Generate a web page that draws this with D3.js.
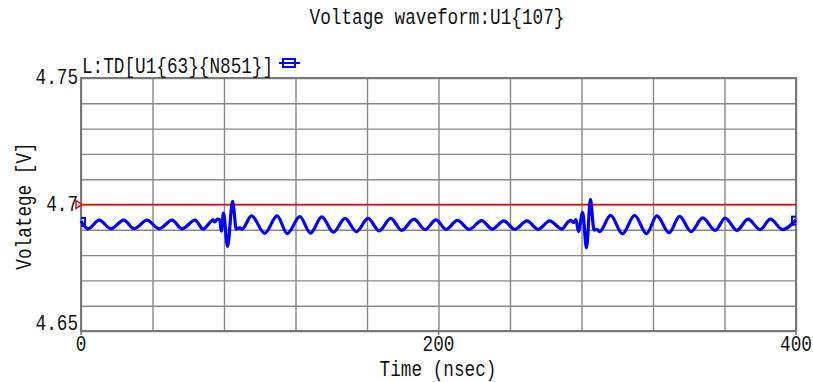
<!DOCTYPE html>
<html>
<head>
<meta charset="utf-8">
<script src="https://cdn.jsdelivr.net/npm/d3@7"></script>
<style>
  html, body { margin: 0; padding: 0; background: #fff; }
  svg text { font-family: "Liberation Mono", "DejaVu Sans Mono", monospace; font-size: 17.7px; fill: #111; }
</style>
</head>
<body>
<svg id="chart" width="813" height="382"></svg>
<script>
// waveform.js — voltage waveform U1{107}, net N851

const title = 'Voltage waveform:U1{107}';
const seriesName = 'L:TD[U1{63}{N851}]';
const xTitle = 'Time (nsec)';
const yTitle = 'Volatege [V]';

const xTicks = [0, 200, 400];
const yTicks = [4.65, 4.7, 4.75];
const refLevel = 4.7;

// time (ns) / voltage (V)
const timeNs = [
  0, 3.9, 10.2, 16.8, 23.9, 29.8, 36.9, 43.8, 50.9, 56.5, 63.8, 68.3,
  72.0, 73.9, 74.8, 76.3, 77.6, 78.5, 79.7, 82.0, 84.8, 86.9, 88.8, 90.1,
  95.4, 102.8, 109.7, 115.4, 122.4, 128.4, 134.7, 141.2, 147.7, 154.1, 160.6, 166.8,
  173.3, 179.4, 186.3, 192.5, 198.6, 204.2, 210.6, 217.2, 224.1, 230.1, 236.5, 242.7,
  249.5, 255.8, 262.2, 269.0, 272.6, 274.1, 275.5, 276.9, 278.3, 280.6, 282.8, 285.0,
  287.0, 288.7, 290.1, 296.3, 302.9, 309.7, 316.4, 322.2, 329.0, 334.9, 341.3, 347.8,
  354.8, 360.4, 366.9, 373.2, 379.9, 385.7, 392.5, 400
];
const voltage = [
  4.6935, 4.6904, 4.6938, 4.6904, 4.6938, 4.6904, 4.6938, 4.6904, 4.6938, 4.6904, 4.6938, 4.6903,
  4.6928, 4.6939, 4.6931, 4.6942, 4.6939, 4.6895, 4.6966, 4.6834, 4.7012, 4.6903, 4.6908, 4.6903,
  4.6955, 4.6886, 4.6955, 4.6885, 4.6952, 4.6887, 4.6951, 4.6891, 4.6945, 4.6893, 4.6945, 4.6896,
  4.6945, 4.6898, 4.6942, 4.6901, 4.6939, 4.6902, 4.6937, 4.6902, 4.6936, 4.6903, 4.6935, 4.6902,
  4.6935, 4.6902, 4.6935, 4.6903, 4.6932, 4.6937, 4.6929, 4.6940, 4.6893, 4.6969, 4.6828, 4.7020,
  4.6899, 4.6901, 4.6893, 4.6957, 4.6884, 4.6957, 4.6885, 4.6955, 4.6888, 4.6953, 4.6893, 4.6947,
  4.6897, 4.6946, 4.6898, 4.6942, 4.6901, 4.6942, 4.6901, 4.6940
];

const margin = { top: 78, right: 17, bottom: 51, left: 81 };
const W = 813, H = 382;
const innerW = W - margin.left - margin.right;
const innerH = H - margin.top - margin.bottom;

const svg = d3.select('#chart');

const x = d3.scaleLinear().domain([0, 400]).range([margin.left, margin.left + innerW]);
const y = d3.scaleLinear().domain([4.65, 4.75]).range([margin.top + innerH, margin.top]);

// stretched text helper (reference font is tall & narrow)
function label(sel, px, py, str, anchor, rot) {
  return sel.append('text')
    .attr('transform', `translate(${px},${py})${rot ? ' rotate(' + rot + ')' : ''} scale(1,1.22)`)
    .attr('text-anchor', anchor)
    .text(str);
}

// grid
svg.append('g')
  .attr('transform', `translate(0,${margin.top + innerH})`)
  .call(d3.axisBottom(x).tickValues(d3.range(0, 401, 40)).tickSize(-innerH).tickFormat(''))
  .call(g => g.select('.domain').remove())
  .call(g => g.selectAll('line').attr('stroke', '#888').attr('stroke-width', 1.4));

svg.append('g')
  .attr('transform', `translate(${margin.left},0)`)
  .call(d3.axisLeft(y).tickValues(d3.range(0, 11).map(i => 4.65 + i * 0.01)).tickSize(-innerW).tickFormat(''))
  .call(g => g.select('.domain').remove())
  .call(g => g.selectAll('line').attr('stroke', '#888').attr('stroke-width', 1.4));

// frame
svg.append('rect')
  .attr('x', margin.left).attr('y', margin.top)
  .attr('width', innerW).attr('height', innerH)
  .attr('fill', 'none').attr('stroke', '#777').attr('stroke-width', 2);

// small ticks at labelled times
svg.append('g').selectAll('line')
  .data(xTicks)
  .join('line')
  .attr('x1', d => x(d)).attr('x2', d => x(d))
  .attr('y1', margin.top + innerH).attr('y2', margin.top + innerH + 4)
  .attr('stroke', '#777').attr('stroke-width', 1.5);

// reference level
svg.append('line')
  .attr('x1', x(0)).attr('x2', x(400))
  .attr('y1', y(refLevel)).attr('y2', y(refLevel))
  .attr('stroke', '#f00').attr('stroke-width', 1.5);

svg.append('path')
  .attr('d', `M${x(0) - 5},${y(refLevel) - 4}L${x(0) + 1},${y(refLevel)}L${x(0) - 5},${y(refLevel) + 4}Z`)
  .attr('fill', 'none').attr('stroke', '#f00').attr('stroke-width', 1.5);

// waveform
const pts = timeNs.map((t, i) => [t, voltage[i]]);

svg.append('clipPath').attr('id', 'plot-clip')
  .append('rect')
  .attr('x', margin.left).attr('y', margin.top)
  .attr('width', innerW).attr('height', innerH);

const line = d3.line()
  .x(d => x(d[0]))
  .y(d => y(d[1]))
  .curve(d3.curveMonotoneX);

svg.append('path')
  .datum(pts)
  .attr('d', line)
  .attr('fill', 'none')
  .attr('stroke', '#0000ff')
  .attr('stroke-width', 3.2)
  .attr('stroke-linejoin', 'round');

// end markers
svg.append('g').attr('clip-path', 'url(#plot-clip)')
  .selectAll('rect')
  .data([pts[0], pts[pts.length - 1]])
  .join('rect')
  .attr('x', d => x(d[0]) - 4).attr('y', d => y(d[1]) - 3)
  .attr('width', 8).attr('height', 8)
  .attr('fill', 'none').attr('stroke', '#0000ff').attr('stroke-width', 2);

// labels
label(svg, 437, 24, title, 'middle');
label(svg, 82, 73, seriesName, 'start');

svg.append('line')
  .attr('x1', 279).attr('x2', 300).attr('y1', 63).attr('y2', 63)
  .attr('stroke', '#0000ff').attr('stroke-width', 2);
svg.append('rect')
  .attr('x', 283).attr('y', 59).attr('width', 12).attr('height', 8)
  .attr('fill', 'none').attr('stroke', '#0000ff').attr('stroke-width', 2);

yTicks.forEach(v => {
  const off = v === 4.65 ? -1 : 6;
  label(svg, 78, y(v) + off, v.toString(), 'end');
});

xTicks.forEach(t => label(svg, x(t), 351, t.toString(), 'middle'));

label(svg, 438, 376, xTitle, 'middle');
label(svg, 31, 206, yTitle, 'middle', -90);
</script>
</body>
</html>
